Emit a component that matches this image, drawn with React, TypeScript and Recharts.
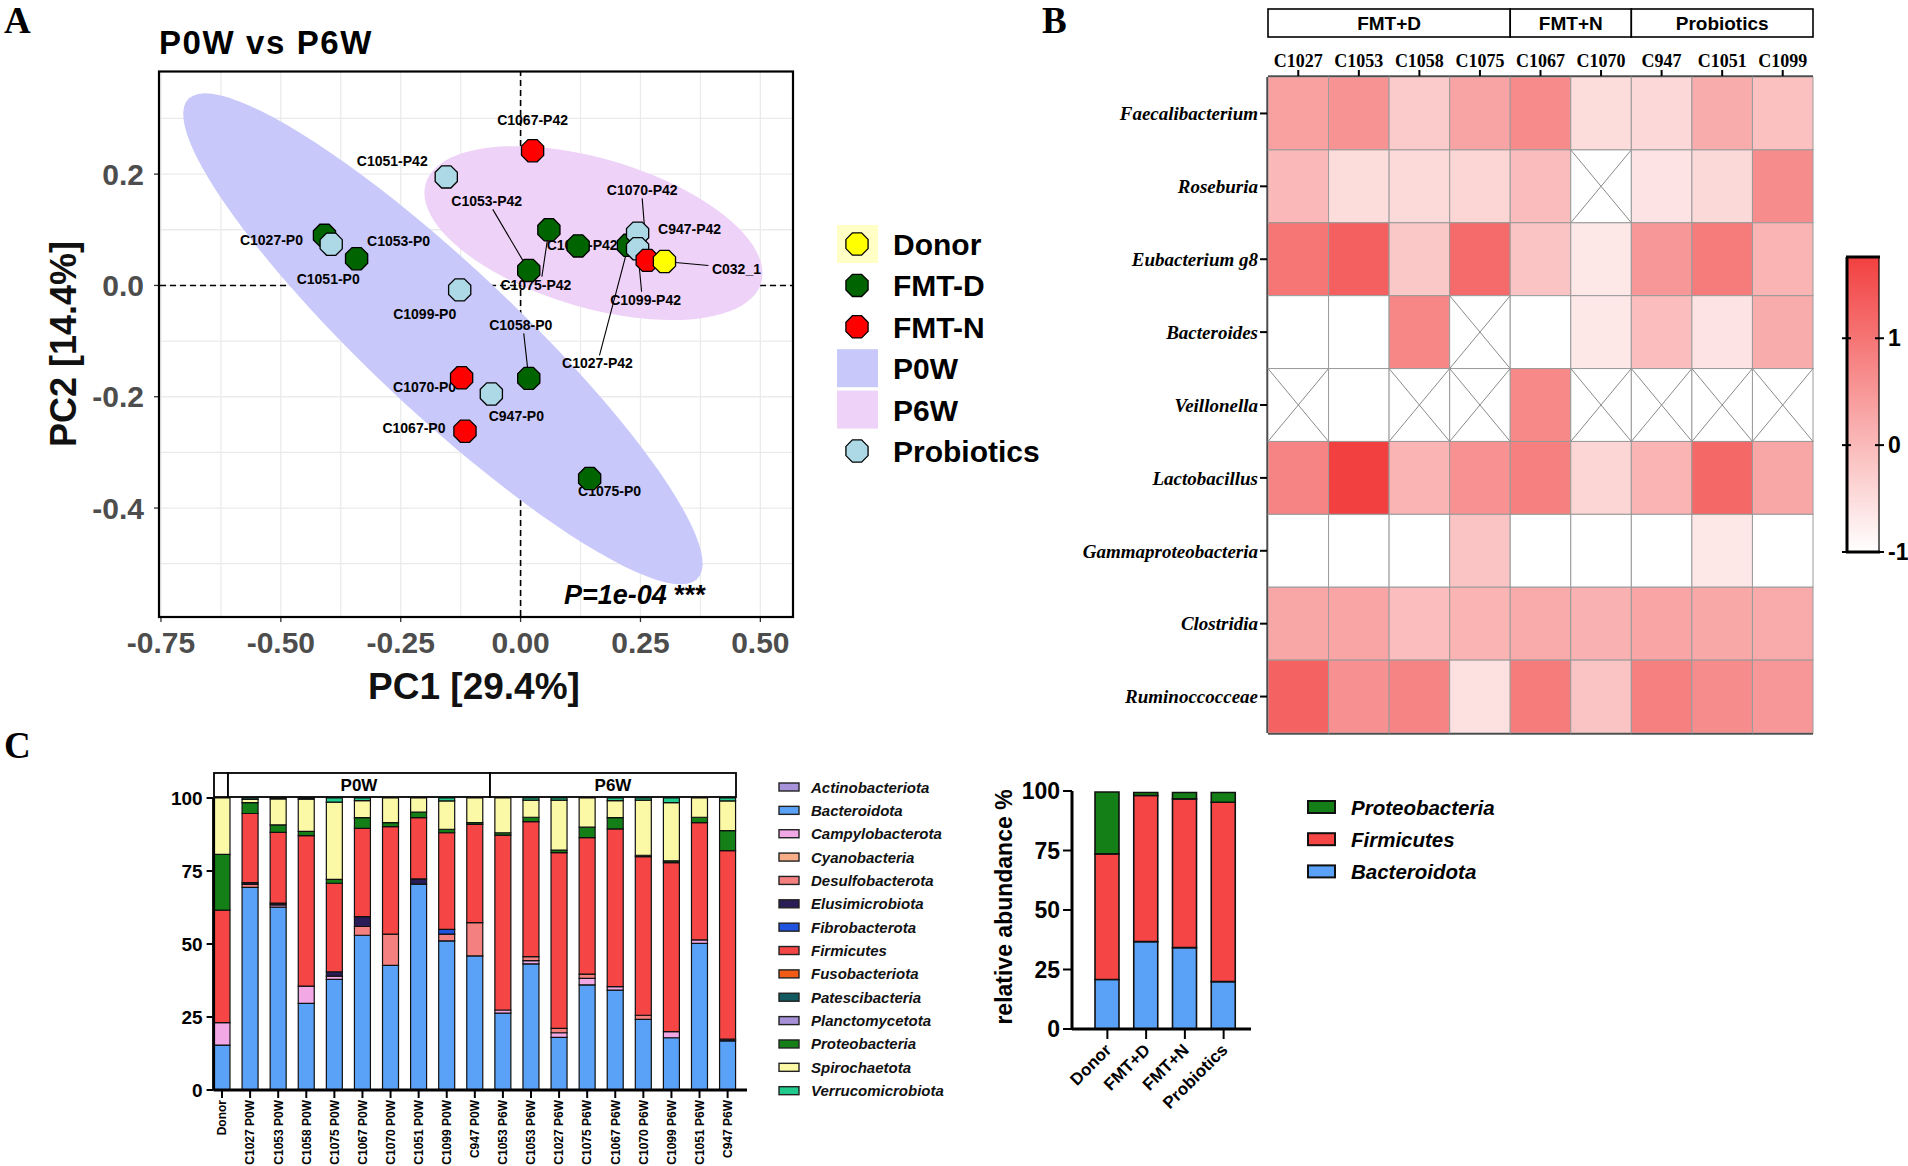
import React from "react";
import {
  Bar,
  BarChart,
  CartesianGrid,
  ReferenceLine,
  Scatter,
  ScatterChart,
  XAxis,
  YAxis,
} from "recharts";

const SANS = "'Liberation Sans', Arial, Helvetica, sans-serif";
const SERIF = "'Liberation Serif', 'Times New Roman', Times, serif";

// ---------- A: PCoA scores (PC1, PC2) ----------
const donorScores = [{ name: "C032_1", x: 0.3, y: 0.043 }];
const fmtDScores = [
  { name: "C1027-P0", x: -0.409, y: 0.09 },
  { name: "C1053-P0", x: -0.342, y: 0.048 },
  { name: "C1058-P0", x: 0.017, y: -0.167 },
  { name: "C1075-P0", x: 0.144, y: -0.347 },
  { name: "C1053-P42", x: 0.017, y: 0.027 },
  { name: "C1075-P42", x: 0.059, y: 0.1 },
  { name: "C1058-P42", x: 0.12, y: 0.071 },
  { name: "C1027-P42", x: 0.225, y: 0.072 },
];
const fmtNScores = [
  { name: "C1067-P42", x: 0.025, y: 0.242 },
  { name: "C1070-P42", x: 0.264, y: 0.045 },
  { name: "C1070-P0", x: -0.123, y: -0.166 },
  { name: "C1067-P0", x: -0.116, y: -0.262 },
];
const probioticScores = [
  { name: "C1051-P42", x: -0.155, y: 0.195 },
  { name: "C947-P42", x: 0.244, y: 0.094 },
  { name: "C1099-P42", x: 0.244, y: 0.066 },
  { name: "C1051-P0", x: -0.395, y: 0.074 },
  { name: "C1099-P0", x: -0.127, y: -0.008 },
  { name: "C947-P0", x: -0.061, y: -0.195 },
];

// confidence ellipses: centre + two conjugate semi-axes (data units)
const p0wEllipse = { cx: -0.162, cy: -0.096, ax: 0.521, ay: -0.437, bx: 0.148, by: 0.06 };
const p6wEllipse = { cx: 0.152, cy: 0.094, ax: 0.336, ay: -0.111, bx: 0.107, by: 0.11 };

const pc1Ticks = [-0.75, -0.5, -0.25, 0, 0.25, 0.5];
const pc2Ticks = [-0.4, -0.2, 0, 0.2];
const pc1Grid = [-0.75, -0.625, -0.5, -0.375, -0.25, -0.125, 0, 0.125, 0.25, 0.375, 0.5];
const pc2Grid = [-0.5, -0.4, -0.3, -0.2, -0.1, 0, 0.1, 0.2, 0.3];

// label placement (px offsets from the point), s = connector start
const labelLayout: Record<string, { dx: number; dy: number; sx?: number; sy?: number }> = {
  "C1067-P42": { dx: 0, dy: -31 },
  "C1051-P42": { dx: -54, dy: -16 },
  "C1053-P42": { dx: -42, dy: -69, sx: 6, sy: 8 },
  "C1075-P42": { dx: -13, dy: 55, sx: 6, sy: -8 },
  "C1058-P42": { dx: 4, dy: -1 },
  "C1027-P42": { dx: -31, dy: 118, sx: 2, sy: -8 },
  "C1070-P42": { dx: -5, dy: -70, sx: 0, sy: 8 },
  "C947-P42": { dx: 52, dy: -4 },
  "C1099-P42": { dx: 8, dy: 51, sx: -4, sy: -8 },
  C032_1: { dx: 72, dy: 7, sx: -28, sy: -3 },
  "C1027-P0": { dx: -53, dy: 5 },
  "C1051-P0": { dx: -3, dy: 35 },
  "C1053-P0": { dx: 42, dy: -18 },
  "C1099-P0": { dx: -35, dy: 24 },
  "C1058-P0": { dx: -8, dy: -53, sx: 3, sy: 8 },
  "C1070-P0": { dx: -37, dy: 9 },
  "C947-P0": { dx: 25, dy: 22 },
  "C1067-P0": { dx: -51, dy: -3 },
  "C1075-P0": { dx: 20, dy: 12 },
};

// ---------- B: heatmap ----------
const heatCols = ["C1027", "C1053", "C1058", "C1075", "C1067", "C1070", "C947", "C1051", "C1099"];
const heatRows = [
  "Faecalibacterium",
  "Roseburia",
  "Eubacterium g8",
  "Bacteroides",
  "Veillonella",
  "Lactobacillus",
  "Gammaproteobacteria",
  "Clostridia",
  "Ruminoccocceae",
];
// null = not detected (crossed cell)
const heatValues: (number | null)[][] = [
  [0.37, 0.56, -0.23, 0.31, 0.69, -0.49, -0.44, 0.2, -0.09],
  [0.03, -0.49, -0.46, -0.4, -0.03, null, -0.6, -0.45, 0.66],
  [1.0, 1.3, -0.2, 1.14, -0.15, -0.65, 0.5, 0.89, 0.08],
  [-1, -1, 0.75, null, -1, -0.65, -0.05, -0.6, 0.2],
  [null, -1, null, null, 0.7, null, null, null, null],
  [0.78, 1.76, 0.08, 0.58, 0.84, -0.4, 0.08, 1.18, 0.28],
  [-1, -1, -1, -0.15, -1, -1, -1, -0.65, -1],
  [0.28, 0.3, -0.05, 0.08, 0.23, 0.13, 0.3, 0.26, 0.23],
  [1.27, 0.6, 0.78, -0.55, 0.89, -0.15, 0.84, 0.66, 0.5],
];
const heatGroups = [
  { label: "FMT+D", from: 0, to: 4 },
  { label: "FMT+N", from: 4, to: 6 },
  { label: "Probiotics", from: 6, to: 9 },
];
const colorbarTicks = [1, 0, -1];
const HEAT_MIN = -1;
const HEAT_MAX = 1.76;

// ---------- C: phylum composition per sample ----------
const sampleLabels = [
  "Donor",
  "C1027 P0W", "C1053 P0W", "C1058 P0W", "C1075 P0W", "C1067 P0W",
  "C1070 P0W", "C1051 P0W", "C1099 P0W", "C947 P0W",
  "C1053 P6W", "C1053 P6W", "C1027 P6W", "C1075 P6W", "C1067 P6W",
  "C1070 P6W", "C1099 P6W", "C1051 P6W", "C947 P6W",
];
const phyla = [
  "Actinobacteriota", "Bacteroidota", "Campylobacterota", "Cyanobacteria",
  "Desulfobacterota", "Elusimicrobiota", "Fibrobacterota", "Firmicutes",
  "Fusobacteriota", "Patescibacteria", "Planctomycetota", "Proteobacteria",
  "Spirochaetota", "Verrucomicrobiota",
];
const zeros19 = [0, 0, 0, 0, 0, 0, 0, 0, 0, 0, 0, 0, 0, 0, 0, 0, 0, 0, 0];
const actinobacteriota = zeros19;
const bacteroidota = [15.4, 69.4, 62.6, 29.7, 37.9, 53.0, 42.7, 70.5, 51.1, 45.9, 26.3, 43.2, 18.0, 36.0, 34.2, 24.2, 17.9, 50.2, 16.8];
const campylobacterota = [7.7, 0, 0.8, 5.9, 1.1, 0, 0, 0, 0, 0, 1.1, 1.1, 1.6, 2.2, 1.2, 0, 2.1, 1.2, 0];
const cyanobacteria = zeros19;
const desulfobacterota = [0, 1.0, 0, 0, 0, 3.0, 10.7, 0, 2.3, 11.4, 0, 1.4, 1.5, 1.5, 0, 1.4, 0, 0, 0];
const elusimicrobiota = [0, 0.6, 0.6, 0, 1.5, 3.4, 0, 1.8, 0, 0, 0, 0, 0, 0, 0, 0, 0, 0, 0.6];
const fibrobacterota = [0, 0, 0, 0, 0, 0, 0, 0, 1.6, 0, 0, 0, 0, 0, 0, 0, 0, 0, 0];
const firmicutes = [38.5, 23.7, 24.2, 51.5, 30.3, 30.2, 36.8, 21.0, 33.1, 33.7, 59.9, 46.2, 60.2, 46.7, 54.0, 54.3, 57.9, 40.2, 64.6];
const fusobacteriota = zeros19;
const patescibacteria = zeros19;
const planctomycetota = zeros19;
const proteobacteria = [19.1, 3.7, 2.6, 1.5, 1.3, 3.7, 1.4, 1.9, 1.2, 0.6, 0.8, 1.5, 0.9, 3.6, 3.9, 0.5, 0.6, 1.8, 6.8];
const spirochaetota = [19.3, 1.1, 8.9, 11.0, 26.5, 5.8, 8.4, 4.8, 9.7, 8.4, 11.9, 5.9, 17.1, 10.0, 5.8, 18.9, 19.9, 6.6, 10.2];
const verrucomicrobiota = [0, 0.5, 0.3, 0.4, 1.4, 0.9, 0, 0, 1.0, 0, 0, 0.7, 0.7, 0, 0.9, 0.7, 1.6, 0, 1.0];
const phylumSeries = [
  actinobacteriota, bacteroidota, campylobacterota, cyanobacteria, desulfobacterota,
  elusimicrobiota, fibrobacterota, firmicutes, fusobacteriota, patescibacteria,
  planctomycetota, proteobacteria, spirochaetota, verrucomicrobiota,
];
const phylumColors = [
  "#a793d9", "#5aa2f7", "#f3a8e6", "#f7ad88", "#f48080", "#2a1d57", "#1f52dd",
  "#f64545", "#f25b16", "#135a60", "#a690d8", "#147f17", "#fbf8a6", "#20c98c",
];
const abundanceTicks = [0, 25, 50, 75, 100];

// ---------- C: group means ----------
const groupLabels = ["Donor", "FMT+D", "FMT+N", "Probiotics"];
const groupBacteroidota = [20.8, 36.7, 34.2, 19.9];
const groupFirmicutes = [52.8, 61.4, 62.5, 75.4];
const groupProteobacteria = [26.0, 1.3, 2.7, 4.1];

// ---------- helpers ----------
function ellipseOutline(e: typeof p0wEllipse) {
  return Array.from({ length: 97 }, (_, k) => {
    const t = (k / 96) * 2 * Math.PI;
    return {
      x: e.cx + e.ax * Math.cos(t) + e.bx * Math.sin(t),
      y: e.cy + e.ay * Math.cos(t) + e.by * Math.sin(t),
    };
  });
}

function heatColor(v: number) {
  const t = Math.max(0, Math.min(1, (v - HEAT_MIN) / (HEAT_MAX - HEAT_MIN)));
  const r = Math.round(255 - 13 * t);
  const g = Math.round(255 - 191 * t);
  return `rgb(${r},${g},${g})`;
}

const emptyShape = () => <g />;

const octagon = (fill: string) => (props: any) => {
  const { cx, cy } = props;
  const r = 12;
  const pts = Array.from({ length: 8 }, (_, k) => {
    const a = Math.PI / 8 + (k * Math.PI) / 4;
    return `${cx + r * Math.cos(a)},${cy + r * Math.sin(a)}`;
  }).join(" ");
  return <polygon points={pts} fill={fill} stroke="#000" strokeWidth={1.3} />;
};

function SampleLabel(props: any) {
  const { cx, cy, payload } = props;
  const l = labelLayout[payload.name] ?? { dx: 0, dy: -26 };
  const lx = cx + l.dx;
  const ly = cy + l.dy;
  return (
    <g>
      {l.sx !== undefined && (
        <line x1={lx + l.sx} y1={ly + (l.sy ?? 0)} x2={cx} y2={cy} stroke="#000" strokeWidth={1.1} />
      )}
      <text
        x={lx}
        y={ly}
        dy="0.36em"
        textAnchor="middle"
        fontFamily={SANS}
        fontWeight="bold"
        fontSize={14}
        fill="#000"
      >
        {payload.name}
      </text>
    </g>
  );
}

// ---------- panels ----------
function PcoaPanel() {
  const allScores = [...fmtDScores, ...fmtNScores, ...probioticScores, ...donorScores];
  const tickStyle = { fill: "#4d4d4d", fontSize: 30, fontWeight: "bold", fontFamily: SANS };
  return (
    <ScatterChart width={800} height={720} margin={{ top: 72, right: 8, bottom: 44, left: 100 }}>
      <CartesianGrid
        stroke="#ebebeb"
        strokeWidth={1.3}
        horizontalValues={pc2Grid}
        verticalValues={pc1Grid}
      />
      <XAxis
        type="number"
        dataKey="x"
        domain={[-0.752, 0.566]}
        allowDataOverflow
        ticks={pc1Ticks}
        interval={0}
        tickFormatter={(v: number) => v.toFixed(2)}
        height={60}
        tickSize={6}
        tickMargin={10}
        axisLine={false}
        tickLine={{ stroke: "#333", strokeWidth: 1.3 }}
        tick={tickStyle}
      />
      <YAxis
        type="number"
        dataKey="y"
        domain={[-0.594, 0.3835]}
        allowDataOverflow
        ticks={pc2Ticks}
        interval={0}
        tickFormatter={(v: number) => v.toFixed(1)}
        width={60}
        tickSize={6}
        tickMargin={10}
        axisLine={false}
        tickLine={{ stroke: "#333", strokeWidth: 1.3 }}
        tick={tickStyle}
      />
      <Scatter
        data={ellipseOutline(p0wEllipse)}
        shape={emptyShape}
        line={{ fill: "#c8c8fa", stroke: "none" }}
        isAnimationActive={false}
      />
      <Scatter
        data={ellipseOutline(p6wEllipse)}
        shape={emptyShape}
        line={{ fill: "#eed2f8", stroke: "none" }}
        isAnimationActive={false}
      />
      <ReferenceLine x={0} stroke="#000" strokeDasharray="6 4" strokeWidth={1.6} />
      <ReferenceLine y={0} stroke="#000" strokeDasharray="6 4" strokeWidth={1.6} />
      <Scatter data={allScores} shape={SampleLabel} isAnimationActive={false} />
      <Scatter data={fmtDScores} shape={octagon("#006400")} isAnimationActive={false} />
      <Scatter data={probioticScores} shape={octagon("#add8e6")} isAnimationActive={false} />
      <Scatter data={fmtNScores} shape={octagon("#ff0000")} isAnimationActive={false} />
      <Scatter data={donorScores} shape={octagon("#ffff00")} isAnimationActive={false} />
    </ScatterChart>
  );
}

const HM_W = 545;
const HM_H = 656;
const cellW = HM_W / heatCols.length;
const cellH = HM_H / heatRows.length;

function HeatCell(props: any) {
  const { cx, cy, payload } = props;
  const x = cx - cellW / 2;
  const y = cy - cellH / 2;
  if (payload.v === null) {
    return (
      <g>
        <rect x={x} y={y} width={cellW} height={cellH} fill="#fff" stroke="#9a9a9a" strokeWidth={1} />
        <line x1={x} y1={y} x2={x + cellW} y2={y + cellH} stroke="#8a8a8a" strokeWidth={1} />
        <line x1={x + cellW} y1={y} x2={x} y2={y + cellH} stroke="#8a8a8a" strokeWidth={1} />
      </g>
    );
  }
  return (
    <rect x={x} y={y} width={cellW} height={cellH} fill={heatColor(payload.v)} stroke="#9a9a9a" strokeWidth={1} />
  );
}

function HeatmapPanel() {
  const cells = heatRows.flatMap((_, ri) =>
    heatCols.map((_, ci) => ({ row: ri, col: ci, v: heatValues[ri][ci] })),
  );
  return (
    <ScatterChart width={763} height={760} margin={{ top: 47, right: 20, bottom: 27, left: 18 }}>
      <Scatter data={cells} shape={HeatCell} isAnimationActive={false} />
      <XAxis
        type="number"
        dataKey="col"
        orientation="top"
        domain={[-0.5, 8.5]}
        ticks={heatCols.map((_, i) => i)}
        interval={0}
        tickFormatter={(i: number) => heatCols[i]}
        height={30}
        tickSize={7}
        tickMargin={3}
        axisLine={{ stroke: "#000", strokeWidth: 3 }}
        tickLine={{ stroke: "#000", strokeWidth: 2 }}
        tick={{ fill: "#000", fontSize: 18, fontWeight: "bold", fontFamily: SERIF }}
      />
      <YAxis
        type="number"
        dataKey="row"
        domain={[-0.5, 8.5]}
        reversed
        ticks={heatRows.map((_, i) => i)}
        interval={0}
        tickFormatter={(i: number) => heatRows[i]}
        width={180}
        tickSize={8}
        tickMargin={2}
        axisLine={{ stroke: "#000", strokeWidth: 3 }}
        tickLine={{ stroke: "#000", strokeWidth: 2 }}
        tick={{ fill: "#000", fontSize: 19, fontWeight: "bold", fontStyle: "italic", fontFamily: SERIF }}
      />
      <ReferenceLine y={8.5} stroke="#000" strokeWidth={3} />
    </ScatterChart>
  );
}

function SampleTick({ x, y, payload }: any) {
  return (
    <text
      x={x}
      y={y}
      dy="0.36em"
      transform={`rotate(-90 ${x} ${y})`}
      textAnchor="end"
      fontFamily={SANS}
      fontWeight="bold"
      fontSize={12}
      fill="#000"
    >
      {sampleLabels[payload.value]}
    </text>
  );
}

function PhylumBars() {
  const rows = sampleLabels.map((s, idx) => {
    const row: Record<string, string | number> = { idx, sample: s };
    phyla.forEach((p, k) => {
      row[p] = phylumSeries[k][idx];
    });
    return row;
  });
  return (
    <BarChart width={760} height={406} data={rows} margin={{ top: 38, right: 13, bottom: 6, left: 153.6 }}>
      <XAxis
        type="number"
        dataKey="idx"
        domain={[-0.3, 18.69]}
        allowDataOverflow
        ticks={sampleLabels.map((_, i) => i)}
        interval={0}
        height={70}
        tickSize={8}
        tickMargin={2}
        axisLine={{ stroke: "#000", strokeWidth: 3 }}
        tickLine={{ stroke: "#000", strokeWidth: 2 }}
        tick={<SampleTick />}
      />
      <YAxis
        domain={[0, 100]}
        ticks={abundanceTicks}
        interval={0}
        width={60}
        tickSize={7}
        tickMargin={4}
        axisLine={{ stroke: "#000", strokeWidth: 3 }}
        tickLine={{ stroke: "#000", strokeWidth: 2 }}
        tick={{ fill: "#000", fontSize: 19, fontWeight: "bold", fontFamily: SANS }}
      />
      {phyla.map((p, k) => (
        <Bar
          key={p}
          dataKey={p}
          stackId="phylum"
          fill={phylumColors[k]}
          stroke="#111"
          strokeWidth={1.2}
          barSize={16}
          isAnimationActive={false}
        />
      ))}
    </BarChart>
  );
}

function GroupTick({ x, y, payload }: any) {
  const tx = x + 5;
  const ty = y + 10;
  return (
    <text
      x={tx}
      y={ty}
      transform={`rotate(-45 ${tx} ${ty})`}
      textAnchor="end"
      fontFamily={SANS}
      fontWeight="bold"
      fontSize={17}
      fill="#000"
    >
      {payload.value}
    </text>
  );
}

function GroupBars() {
  const rows = groupLabels.map((g, i) => ({
    group: g,
    Bacteroidota: groupBacteroidota[i],
    Firmicutes: groupFirmicutes[i],
    Proteobacteria: groupProteobacteria[i],
  }));
  return (
    <BarChart width={420} height={406} data={rows} margin={{ top: 31, right: 109, bottom: 37, left: 82 }}>
      <XAxis
        dataKey="group"
        interval={0}
        padding={{ left: 16, right: 8 }}
        height={100}
        tickSize={10}
        tickMargin={2}
        axisLine={{ stroke: "#000", strokeWidth: 3 }}
        tickLine={{ stroke: "#000", strokeWidth: 2 }}
        tick={<GroupTick />}
      />
      <YAxis
        domain={[0, 100]}
        ticks={abundanceTicks}
        interval={0}
        width={50}
        tickSize={9}
        tickMargin={3}
        axisLine={{ stroke: "#000", strokeWidth: 3 }}
        tickLine={{ stroke: "#000", strokeWidth: 2 }}
        tick={{ fill: "#000", fontSize: 23, fontWeight: "bold", fontFamily: SANS }}
      />
      <Bar dataKey="Bacteroidota" stackId="g" fill="#5aa2f7" stroke="#111" strokeWidth={1.6} barSize={24} isAnimationActive={false} />
      <Bar dataKey="Firmicutes" stackId="g" fill="#f64545" stroke="#111" strokeWidth={1.6} barSize={24} isAnimationActive={false} />
      <Bar dataKey="Proteobacteria" stackId="g" fill="#147f17" stroke="#111" strokeWidth={1.6} barSize={24} isAnimationActive={false} />
    </BarChart>
  );
}

function Annotations() {
  const legendA = [
    { label: "Donor", dot: "#ffff00", bg: "#ffffc6" },
    { label: "FMT-D", dot: "#006400" },
    { label: "FMT-N", dot: "#ff0000" },
    { label: "P0W", bg: "#c8c8fa" },
    { label: "P6W", bg: "#eed2f8" },
    { label: "Probiotics", dot: "#add8e6" },
  ];
  const hmLeft = 1268;
  const cbTop = 257;
  const cbBottom = 552;
  const cbY = (v: number) => cbBottom - ((v - HEAT_MIN) / (HEAT_MAX - HEAT_MIN)) * (cbBottom - cbTop);
  const groupLegend = [
    { label: "Proteobacteria", color: "#147f17" },
    { label: "Firmicutes", color: "#f64545" },
    { label: "Bacteroidota", color: "#5aa2f7" },
  ];
  return (
    <svg
      width={1908}
      height={1166}
      style={{ position: "absolute", left: 0, top: 0, pointerEvents: "none" }}
    >
      <defs>
        <linearGradient id="heatGrad" x1="0" y1="1" x2="0" y2="0">
          <stop offset="0" stopColor={heatColor(HEAT_MIN)} />
          <stop offset="1" stopColor={heatColor(HEAT_MAX)} />
        </linearGradient>
      </defs>

      {/* panel letters */}
      <text x={4} y={33} fontFamily={SERIF} fontWeight="bold" fontSize={37}>A</text>
      <text x={1042} y={33} fontFamily={SERIF} fontWeight="bold" fontSize={37}>B</text>
      <text x={4} y={758} fontFamily={SERIF} fontWeight="bold" fontSize={37}>C</text>

      {/* A */}
      <text x={159} y={54} fontFamily={SANS} fontWeight="bold" fontSize={33} letterSpacing={1.6}>
        P0W vs P6W
      </text>
      <rect x={159} y={71.5} width={634} height={545.5} fill="none" stroke="#000" strokeWidth={2.2} />
      <text x={564} y={604} fontFamily={SANS} fontWeight="bold" fontSize={27} fill="#000">
        <tspan fontStyle="italic">P=1e-04</tspan>
        <tspan> ***</tspan>
      </text>
      <text x={474} y={699} textAnchor="middle" fontFamily={SANS} fontWeight="bold" fontSize={37} fill="#111">
        PC1 [29.4%]
      </text>
      <text
        x={76}
        y={344}
        transform="rotate(-90 76 344)"
        textAnchor="middle"
        fontFamily={SANS}
        fontWeight="bold"
        fontSize={36}
        fill="#111"
      >
        PC2 [14.4%]
      </text>
      {legendA.map((item, i) => {
        const cy = 244 + i * 41.4;
        return (
          <g key={item.label}>
            {item.bg && <rect x={837} y={cy - 19} width={41} height={38} fill={item.bg} />}
            {item.dot && octagon(item.dot)({ cx: 857, cy })}
            <text x={893} y={cy + 11} fontFamily={SANS} fontWeight="bold" fontSize={30} fill="#000">
              {item.label}
            </text>
          </g>
        );
      })}

      {/* B: group headers */}
      {heatGroups.map((g) => {
        const x0 = hmLeft + g.from * cellW;
        const x1 = hmLeft + g.to * cellW;
        return (
          <g key={g.label}>
            <rect x={x0} y={9} width={x1 - x0} height={28} fill="#fff" stroke="#000" strokeWidth={1.6} />
            <text x={(x0 + x1) / 2} y={30} textAnchor="middle" fontFamily={SANS} fontWeight="bold" fontSize={19}>
              {g.label}
            </text>
          </g>
        );
      })}

      {/* B: colour bar */}
      <rect x={1847} y={cbTop} width={32} height={cbBottom - cbTop} fill="url(#heatGrad)" stroke="#000" strokeWidth={1.2} />
      <line x1={1846} y1={cbTop} x2={1880} y2={cbTop} stroke="#000" strokeWidth={3} />
      <line x1={1846} y1={cbBottom} x2={1880} y2={cbBottom} stroke="#000" strokeWidth={3} />
      <line x1={1847} y1={cbTop} x2={1847} y2={cbBottom} stroke="#000" strokeWidth={3} />
      {colorbarTicks.map((v) => (
        <g key={v}>
          <line x1={1842} y1={cbY(v)} x2={1851} y2={cbY(v)} stroke="#000" strokeWidth={2} />
          <line x1={1875} y1={cbY(v)} x2={1884} y2={cbY(v)} stroke="#000" strokeWidth={2} />
          <text x={1888} y={cbY(v) + 8} fontFamily={SANS} fontWeight="bold" fontSize={23}>
            {v}
          </text>
        </g>
      ))}

      {/* C: header boxes */}
      <rect x={214} y={773} width={14} height={24} fill="#fff" stroke="#000" strokeWidth={1.8} />
      <rect x={228} y={773} width={262} height={24} fill="#fff" stroke="#000" strokeWidth={1.8} />
      <rect x={490} y={773} width={246} height={24} fill="#fff" stroke="#000" strokeWidth={1.8} />
      <text x={359} y={791} textAnchor="middle" fontFamily={SANS} fontWeight="bold" fontSize={17}>P0W</text>
      <text x={613} y={791} textAnchor="middle" fontFamily={SANS} fontWeight="bold" fontSize={17}>P6W</text>

      {/* C: phylum legend */}
      {phyla.map((p, k) => {
        const cy = 787 + k * 23.36;
        return (
          <g key={p}>
            <rect x={779} y={cy - 4} width={20} height={8} fill={phylumColors[k]} stroke="#222" strokeWidth={1.4} />
            <text x={811} y={cy + 5.5} fontFamily={SANS} fontWeight="bold" fontStyle="italic" fontSize={15} fill="#111">
              {p}
            </text>
          </g>
        );
      })}

      {/* C: group chart y title and legend */}
      <text
        x={1012}
        y={907}
        transform="rotate(-90 1012 907)"
        textAnchor="middle"
        fontFamily={SANS}
        fontWeight="bold"
        fontSize={23}
        fill="#000"
      >
        relative abundance %
      </text>
      {groupLegend.map((g, i) => {
        const cy = 807 + i * 32.2;
        return (
          <g key={g.label}>
            <rect x={1308} y={cy - 6} width={27} height={12} fill={g.color} stroke="#111" strokeWidth={2} />
            <text x={1351} y={cy + 7.5} fontFamily={SANS} fontWeight="bold" fontStyle="italic" fontSize={20.5} fill="#000">
              {g.label}
            </text>
          </g>
        );
      })}
    </svg>
  );
}

export default function App() {
  return (
    <div
      style={{
        position: "absolute",
        left: 0,
        top: 0,
        width: 1908,
        height: 1166,
        background: "#fff",
        overflow: "hidden",
      }}
    >
      <div style={{ position: "absolute", left: 0, top: 0 }}>
        <PcoaPanel />
      </div>
      <div style={{ position: "absolute", left: 1070, top: 0 }}>
        <HeatmapPanel />
      </div>
      <div style={{ position: "absolute", left: 0, top: 760 }}>
        <PhylumBars />
      </div>
      <div style={{ position: "absolute", left: 940, top: 760 }}>
        <GroupBars />
      </div>
      <Annotations />
    </div>
  );
}
